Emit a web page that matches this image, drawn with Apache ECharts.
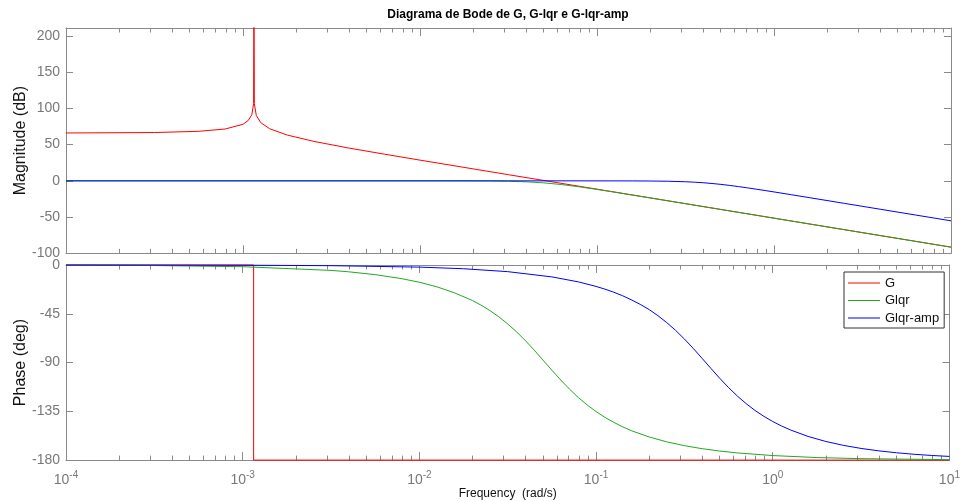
<!DOCTYPE html>
<html>
<head>
<meta charset="utf-8">
<script src="https://cdn.jsdelivr.net/npm/echarts@6/dist/echarts.min.js"></script>
<style>html,body{margin:0;padding:0;background:#fff;}#c{width:963px;height:501px;}</style>
</head>
<body>
<div id="c"></div>
<script>
// ---- data ----
const titleText = 'Diagrama de Bode de G, G-lqr e G-lqr-amp';
const seriesNames = ['G', 'Glqr', 'Glqr-amp'];
const xTickExponents = [-4, -3, -2, -1, 0, 1];
const xMinorTicks = [2e-4,3e-4,4e-4,5e-4,6e-4,7e-4,8e-4,9e-4,
  2e-3,3e-3,4e-3,5e-3,6e-3,7e-3,8e-3,9e-3,
  2e-2,3e-2,4e-2,5e-2,6e-2,7e-2,8e-2,9e-2,
  0.2,0.3,0.4,0.5,0.6,0.7,0.8,0.9,
  2,3,4,5,6,7,8,9];
const magTicks = [-100, -50, 0, 50, 100, 150, 200];
const phaseTicks = [-180, -135, -90, -45, 0];

// G magnitude (dB)
const gMagFreq = [1e-4, 3.16e-4, 5.62e-4, 7.94e-4, 1.0e-3, 1.07e-3, 1.122e-3, 1.148e-3, 1.153e-3, 1.159e-3, 1.189e-3, 1.259e-3, 1.413e-3, 1.778e-3, 2.51e-3, 3.98e-3, 6.31e-3, 1e-2, 3.16e-2, 0.1, 1, 10];
const gMag     = [66.1, 66.7, 68.4, 71.6, 78.1, 83.3, 91.4, 106.7, 260, 106.7, 90.2, 80.4, 72.0, 63.2, 54.5, 45.2, 36.8, 28.6, 8.5, -11.5, -51.5, -91.5];
// G phase (deg)
const gPhaseFreq = [1e-4, 1.153e-3, 1.1531e-3, 10];
const gPhase     = [0, 0, -180, -180];

// Glqr magnitude (dB)
const lqrMagFreq = [1e-4, 1e-2, 1.259e-2, 1.58e-2, 2.0e-2, 2.51e-2, 3.16e-2, 3.98e-2, 5.01e-2, 6.31e-2, 7.94e-2, 0.1, 0.126, 0.158, 0.1995, 0.251, 0.398, 0.631, 1, 3.16, 10];
const lqrMag     = [0, 0, -0.02, -0.04, -0.1, -0.24, -0.58, -1.33, -2.78, -5.12, -8.23, -11.82, -15.64, -19.57, -23.54, -27.5, -35.5, -43.5, -51.5, -71.5, -91.5];
// Glqr phase (deg)
const lqrPhaseFreq = [1e-4, 3.16e-4, 1e-3, 3.16e-3, 3.98e-3, 5.62e-3, 7.94e-3, 1e-2, 1.259e-2, 1.58e-2, 2.0e-2, 2.239e-2, 2.51e-2, 2.818e-2, 3.16e-2, 3.548e-2, 3.98e-2, 4.467e-2, 5.01e-2, 5.623e-2, 6.31e-2, 7.079e-2, 7.94e-2, 8.913e-2, 0.1, 0.1122, 0.126, 0.1413, 0.158, 0.1995, 0.251, 0.3162, 0.398, 0.5012, 0.631, 1, 1.778, 3.16, 10];
const lqrPhase     = [-0.16, -0.5, -1.57, -4.98, -6.28, -8.88, -12.59, -15.9, -20.17, -25.66, -32.8, -37.14, -42.1, -47.83, -54.34, -61.63, -69.78, -78.55, -87.8, -97.06, -106.1, -114.56, -122.3, -129.17, -135.2, -140.56, -145.2, -149.25, -152.8, -158.63, -163.15, -166.68, -169.46, -171.64, -173.37, -175.82, -177.65, -178.68, -179.58];

// Glqr-amp magnitude (dB)
const ampMagFreq = [1e-4, 3.16e-2, 0.1, 0.158, 0.1995, 0.251, 0.316, 0.3548, 0.398, 0.4467, 0.501, 0.5623, 0.631, 0.7079, 0.794, 0.8913, 1, 1.259, 1.585, 2.51, 3.98, 6.31, 10];
const ampMag     = [0, 0, -0.01, -0.09, -0.22, -0.53, -1.23, -1.82, -2.61, -3.63, -4.87, -6.32, -7.92, -9.66, -11.48, -13.36, -15.29, -19.21, -23.18, -31.17, -39.16, -47.16, -55.16];
// Glqr-amp phase (deg)
const ampPhaseFreq = [1e-4, 1e-3, 3.16e-3, 1e-2, 1.78e-2, 3.16e-2, 5.62e-2, 7.94e-2, 0.1, 0.1122, 0.126, 0.1413, 0.158, 0.1778, 0.2, 0.2239, 0.251, 0.2818, 0.316, 0.3548, 0.398, 0.4467, 0.501, 0.5623, 0.631, 0.7079, 0.794, 0.8913, 1, 1.122, 1.26, 1.585, 1.995, 2.51, 3.162, 3.98, 5.012, 6.31, 7.943, 10];
const ampPhase     = [-0.02, -0.19, -0.61, -1.94, -3.45, -6.14, -10.97, -15.58, -19.75, -22.25, -25.1, -28.35, -32.07, -36.31, -41.17, -46.75, -53.07, -60.26, -68.23, -76.91, -86.08, -95.4, -104.5, -113.1, -120.95, -127.97, -134.2, -139.65, -144.4, -148.55, -152.2, -158.17, -162.79, -166.4, -169.23, -171.47, -173.23, -174.63, -175.73, -176.61];

const colors = ['#ff0000', '#22a822', '#0000ff'];

// ---- chart ----
const pair = (xs, ys) => xs.map((x, i) => [x, ys[i]]);
const axisGray = '#8a8a8a';
const labelGray = '#787878';
const FONT = '"Liberation Sans", Arial, Helvetica, sans-serif';

function xAxes(gridIndex, withLabels) {
  const base = {
    type: 'log', logBase: 10, gridIndex: gridIndex, min: 1e-4, max: 10,
    splitLine: { show: false }, axisPointer: { show: false }
  };
  const lineOn = { show: true, onZero: false, lineStyle: { color: axisGray, width: 1 } };
  const lineOff = { show: false, onZero: false };
  const majorLabel = withLabels ? {
    show: true, margin: 10, color: labelGray,
    formatter: function (v) {
      const e = Math.round(Math.log10(v));
      if (xTickExponents.indexOf(e) < 0) return '';
      return '{b|10}{s|' + e + '}';
    },
    rich: {
      b: { fontSize: 14, lineHeight: 20, color: labelGray, fontFamily: FONT },
      s: { fontSize: 10, lineHeight: 11, verticalAlign: 'top', color: labelGray, fontFamily: FONT }
    }
  } : { show: false };
  const ax = [
    Object.assign({}, base, { position: 'bottom', axisLine: lineOn,
      axisTick: { show: true, inside: true, length: 8, lineStyle: { color: axisGray } }, axisLabel: majorLabel }),
    Object.assign({}, base, { position: 'bottom', axisLine: lineOff,
      axisTick: { show: true, inside: true, length: 4.5, customValues: xMinorTicks, lineStyle: { color: axisGray } }, axisLabel: { show: false } }),
    Object.assign({}, base, { position: 'top', axisLine: lineOn,
      axisTick: { show: true, inside: true, length: 8, lineStyle: { color: axisGray } }, axisLabel: { show: false } }),
    Object.assign({}, base, { position: 'top', axisLine: lineOff,
      axisTick: { show: true, inside: true, length: 4.5, customValues: xMinorTicks, lineStyle: { color: axisGray } }, axisLabel: { show: false } })
  ];
  if (withLabels) {
    ax[0].name = 'Frequency  (rad/s)';
    ax[0].nameLocation = 'middle';
    ax[0].nameGap = 24;
    ax[0].nameTextStyle = { fontSize: 12, color: '#111', fontFamily: FONT };
  }
  return ax;
}

function yAxes(gridIndex, min, max, interval, name, ticks) {
  const common = { type: 'value', gridIndex: gridIndex, min: min, max: max, interval: interval,
    splitLine: { show: false }, axisPointer: { show: false } };
  return [
    Object.assign({}, common, { position: 'left',
      axisLine: { show: true, onZero: false, lineStyle: { color: axisGray } },
      axisTick: { show: true, inside: true, length: 7, lineStyle: { color: axisGray } },
      axisLabel: { show: true, margin: 6, color: labelGray, fontSize: 14, fontFamily: FONT,
        formatter: function (v) { return ticks.indexOf(v) >= 0 ? String(v) : ''; } },
      name: name, nameLocation: 'middle', nameGap: 37, nameMoveOverlap: false,
      nameTextStyle: { fontSize: 16, color: '#111', fontFamily: FONT } }),
    Object.assign({}, common, { position: 'right',
      axisLine: { show: true, onZero: false, lineStyle: { color: axisGray } },
      axisTick: { show: true, inside: true, length: 7, lineStyle: { color: axisGray } },
      axisLabel: { show: false } })
  ];
}

const lineSeries = (name, data, xi, yi, color, opts) => Object.assign({
  type: 'line', name: name, data: data, xAxisIndex: xi, yAxisIndex: yi,
  showSymbol: false, symbol: 'none', lineStyle: { color: color, width: 1 }, itemStyle: { color: color },
  animation: false, silent: true
}, opts || {});

const option = {
  animation: false,
  backgroundColor: '#ffffff',
  textStyle: { fontFamily: FONT },
  title: { text: titleText, left: 508, top: 9, textAlign: 'center', padding: 0,
    textStyle: { fontSize: 12, fontWeight: 'bold', color: '#000', fontFamily: FONT } },
  grid: [
    { left: 66, right: 12, top: 28, height: 225.3 },
    { left: 66, right: 12, top: 265, height: 196 }
  ],
  xAxis: xAxes(0, false).concat(xAxes(1, true)),
  yAxis: yAxes(0, -100, 211, 50, 'Magnitude (dB)', magTicks).concat(yAxes(1, -180, 0, 45, 'Phase (deg)', phaseTicks)),
  legend: {
    data: seriesNames, orient: 'vertical', left: 844, top: 272,
    padding: [4, 5, 3, 4], itemGap: 3.5, itemWidth: 32, itemHeight: 14,
    textStyle: { fontSize: 13, color: '#111', lineHeight: 14, fontFamily: FONT },
    borderColor: '#333', borderWidth: 1, backgroundColor: '#fff', selectedMode: false,
    icon: 'path://M0,7 L32,7 L32,8 L0,8 Z'
  },
  series: [
    lineSeries('G', pair(gMagFreq, gMag), 0, 0, colors[0], { clip: true }),
    lineSeries('Glqr', pair(lqrMagFreq, lqrMag), 0, 0, colors[1]),
    lineSeries('Glqr-amp', pair(ampMagFreq, ampMag), 0, 0, colors[2]),
    lineSeries('G', pair(gPhaseFreq, gPhase), 4, 2, colors[0], { clip: false }),
    lineSeries('Glqr', pair(lqrPhaseFreq, lqrPhase), 4, 2, colors[1], { clip: false }),
    lineSeries('Glqr-amp', pair(ampPhaseFreq, ampPhase), 4, 2, colors[2], { clip: false })
  ]
};

const chart = echarts.init(document.getElementById('c'), null, { renderer: 'canvas' });
chart.setOption(option);
</script>
</body>
</html>
